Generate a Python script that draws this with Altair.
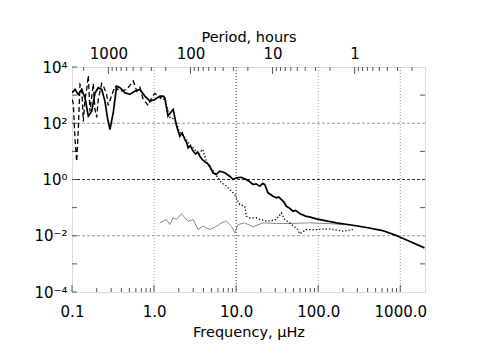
import math
import altair as alt
import pandas as pd

# ---- data (frequency in microHz, power) ----
solid_f = [0.1, 0.109, 0.119, 0.131, 0.144, 0.158, 0.174, 0.191, 0.209, 0.230, 0.252, 0.270,
           0.290, 0.318, 0.350, 0.384, 0.441, 0.508, 0.584, 0.672, 0.773, 0.889, 1.02, 1.18,
           1.29, 1.35, 1.48, 1.56, 1.71, 1.88, 2.06, 2.2, 2.37, 2.5, 2.60, 2.75, 2.99, 3.2, 3.4,
           3.61, 3.9, 4.35, 4.7, 5.24, 5.7, 6.32, 7.27, 8.36, 9.2, 10.1, 11.5, 13.3, 14.5, 16.1,
           17.5, 19.4, 21, 22.3, 24.4, 26, 28.1, 30.9, 33, 35.6, 38, 40.9, 44, 49.2, 53, 59.4,
           70, 80, 94.8, 166, 241, 385, 607, 891, 1294, 1970]
solid_p = [1217, 1596, 1059, 1596, 808, 179, 270, 1217, 1834, 1596, 611, 161,
           60, 237, 2091, 1834, 1217, 1059, 1387, 1596, 921, 611, 703, 921,
           921, 808, 179, 223, 310, 79, 34.8, 45, 26.5, 20, 13.4, 16, 10.2, 8, 9.5,
           6.75, 5, 3.93, 3.2, 1.73, 1.5, 1.97, 1.73, 1.31, 1.0, 1.15, 1.2, 1.0, 0.85, 0.664,
           0.7, 0.578, 0.72, 0.664, 0.336, 0.3, 0.255, 0.223, 0.24, 0.194, 0.16, 0.112, 0.1, 0.0744, 0.08, 0.0617,
           0.05, 0.046, 0.0399, 0.0288, 0.0246, 0.0196, 0.0153, 0.0102, 0.0064, 0.0037]

dashed_f = [0.1, 0.1037, 0.1088, 0.1141, 0.1193, 0.1251, 0.1312, 0.1373, 0.1439, 0.1510, 0.1579,
            0.1656, 0.1737, 0.1816, 0.1905, 0.1997, 0.2089, 0.2298, 0.2403, 0.2643, 0.2764, 0.2982,
            0.3336, 0.3836, 0.4628, 0.5077, 0.5569, 0.6177, 0.672, 0.737, 0.8478, 0.9402, 1.023,
            1.177, 1.29]
dashed_p = [703, 507, 26.5, 4.37, 60, 2404, 1880, 116, 703, 1596, 5024,
            263, 828, 2609, 310, 161, 703, 2609, 2213, 1059, 430, 828,
            2040, 1355, 1596, 2213, 3200, 1355, 1880, 703, 430, 828, 1148,
            828, 899]

dotted_f = [1.177, 1.353, 1.556, 1.791, 2.060, 2.370, 2.726, 3.136, 3.411, 3.924, 4.268, 4.773,
            5.340, 5.973, 6.624, 7.474, 8.357, 9.616, 10.55, 11.06, 12.72, 13.34, 14.64, 17.66,
            19.37, 24.44, 30.93, 35.57, 39.0, 44.9, 56.6, 59.4, 71.6, 94.8, 137.6, 200, 264]
dotted_p = [763, 703, 161, 137, 47, 31.2, 17.6, 11.7, 7.76, 11.7, 5.15, 2.67,
            1.93, 1.18, 0.763, 0.612, 0.441, 0.292, 0.169, 0.129, 0.112, 0.0494, 0.0434, 0.0434,
            0.0377, 0.0328, 0.0377, 0.0653, 0.0377, 0.0288, 0.0166, 0.0117, 0.0166, 0.0166, 0.0176, 0.0145, 0.0166]

grey_f = [1.177, 1.290, 1.420, 1.556, 1.707, 1.878, 2.160, 2.370, 2.598, 2.990, 3.440, 3.957,
          4.773, 5.758, 6.624, 7.621, 8.766, 9.616, 10.55, 12.72, 16.06, 21.25, 30.93, 44.9,
          78.6, 151, 290.8, 509, 739, 932]
grey_p = [0.0288, 0.0328, 0.0377, 0.0250, 0.0434, 0.0377, 0.0617, 0.0434, 0.0328, 0.0377, 0.0166, 0.0218,
          0.0166, 0.0218, 0.0288, 0.0328, 0.0218, 0.0127, 0.0250, 0.0288, 0.0207, 0.0288, 0.0272, 0.0272,
          0.0288, 0.0265, 0.0231, 0.0173, 0.0130, 0.0102]

# axis / grid values
freq_labels = [0.1, 1, 10, 100, 1000]
freq_minor = [0.2, 0.3, 0.4, 0.5, 0.6, 0.7, 0.8, 0.9, 2, 3, 4, 5, 6, 7, 8, 9,
              20, 30, 40, 50, 60, 70, 80, 90, 200, 300, 400, 500, 600, 700, 800, 900]
period_major = [1000, 100, 10, 1]
period_minor = [2000, 900, 800, 700, 600, 500, 400, 300, 200, 90, 80, 70, 60, 50, 40, 30, 20,
                9, 8, 7, 6, 5, 4, 3, 2, 0.9, 0.8, 0.7, 0.6, 0.5, 0.4, 0.3, 0.2]
power_labels = [1e4, 1e2, 1, 1e-2, 1e-4]
power_label_text = ["10⁴", "10²", "10⁰", "10⁻²", "10⁻⁴"]
power_minor = [1e3, 1e1, 1e-1, 1e-3]
grid_x = [1, 10, 100, 1000]
grid_y = [1e2, 1, 1e-2]

W, H = 353, 225
FONT = "DejaVu Sans"
xs = alt.Scale(type="log", domain=[0.1, 2000], nice=False)
ys = alt.Scale(type="log", domain=[1e-4, 1e4], nice=False)

expo = "round(log(datum.value)/LN10)"
ylabel_expr = ""
for v, t in zip(power_labels, power_label_text):
    ylabel_expr += f"{expo} == {round(math.log10(v))} ? '{t}' : "
ylabel_expr += "''"

gv = alt.Chart(pd.DataFrame({"v": grid_x})).mark_rule(strokeDash=[1, 2], strokeWidth=1).encode(
    x=alt.X("v:Q", scale=xs, axis=None),
    color=alt.condition(alt.datum.v == 10, alt.value("#333333"), alt.value("#999999")),
)
gh = alt.Chart(pd.DataFrame({"v": grid_y})).mark_rule(strokeDash=[3, 2], strokeWidth=1).encode(
    y=alt.Y("v:Q", scale=ys, axis=None),
    color=alt.condition(alt.datum.v == 1, alt.value("#333333"), alt.value("#999999")),
)

bottom_major = alt.Chart(pd.DataFrame({"v": freq_labels})).mark_rule(color="#555", strokeWidth=1).encode(
    x=alt.X("v:Q", scale=xs, axis=alt.Axis(
        orient="bottom", values=freq_labels, format=".1f", ticks=False, grid=False, domain=False,
        labelPadding=12, labelFontSize=15, labelFont=FONT, labelColor="black",
        title="Frequency, μHz", titleFont=FONT, titleFontSize=14.5, titleFontWeight="normal",
        titleColor="black", titlePadding=6, labelFlush=False)),
    y=alt.value(H), y2=alt.value(H - 7),
)
bottom_minor = alt.Chart(pd.DataFrame({"v": freq_minor})).mark_rule(color="#555", strokeWidth=1).encode(
    x=alt.X("v:Q", scale=xs, axis=None), y=alt.value(H), y2=alt.value(H - 4),
)

top_major = alt.Chart(pd.DataFrame({"p": period_major})).transform_calculate(
    f="1e6/3600/datum.p").mark_rule(color="#555", strokeWidth=1).encode(
    x=alt.X("f:Q", scale=xs, axis=alt.Axis(
        orient="top", values=[1e6 / 3600 / p for p in period_major],
        labelExpr="round(1e6/3600/datum.value)", ticks=False, grid=False, domain=False,
        labelPadding=6, labelFontSize=15, labelFont=FONT, labelColor="black",
        title="Period, hours", titleFont=FONT, titleFontSize=14.5, titleFontWeight="normal",
        titleColor="black", titlePadding=2, labelFlush=False)),
    y=alt.value(0), y2=alt.value(7),
)
top_minor = alt.Chart(pd.DataFrame({"p": period_minor})).transform_calculate(
    f="1e6/3600/datum.p").transform_filter("datum.f <= 2000").mark_rule(color="#555", strokeWidth=1).encode(
    x=alt.X("f:Q", scale=xs, axis=None), y=alt.value(0), y2=alt.value(4),
)

left_ticks = alt.Chart(pd.DataFrame({"v": power_labels + power_minor})).mark_rule(color="#555", strokeWidth=1).encode(
    y=alt.Y("v:Q", scale=ys, axis=alt.Axis(
        orient="left", values=power_labels, labelExpr=ylabel_expr, ticks=False, grid=False,
        domain=False, labelPadding=5, labelFontSize=15, labelFont=FONT, labelColor="black",
        title=None, labelFlush=False)),
    x=alt.value(0), x2=alt.value(5),
)
right_ticks = alt.Chart(pd.DataFrame({"v": power_minor})).mark_rule(color="#555", strokeWidth=1).encode(
    y=alt.Y("v:Q", scale=ys, axis=None), x=alt.value(W - 5), x2=alt.value(W),
)


def series(fs, ps, **kw):
    return alt.Chart(pd.DataFrame({"f": fs, "p": ps})).mark_line(clip=True, **kw).encode(
        x=alt.X("f:Q", scale=xs, axis=None),
        y=alt.Y("p:Q", scale=ys, axis=None),
        order="f:Q",
    )


grey_line = series(grey_f, grey_p, color="#8a8a8a", strokeWidth=1)
dotted_line = series(dotted_f, dotted_p, color="black", strokeWidth=1.3, strokeDash=[1.3, 2])
dashed_line = series(dashed_f, dashed_p, color="black", strokeWidth=1.3, strokeDash=[5, 3])
solid_line = series(solid_f, solid_p, color="black", strokeWidth=1.7)

chart = alt.layer(
    gv, gh, bottom_major, bottom_minor, top_major, top_minor, left_ticks, right_ticks,
    grey_line, dotted_line, dashed_line, solid_line,
).resolve_axis(x="independent", y="independent").properties(
    width=W, height=H,
    autosize=alt.AutoSizeParams(type="none"),
    padding={"left": 64, "top": 59, "right": 58, "bottom": 51},
).configure_view(stroke="#555555", strokeWidth=1).configure(background="white")

chart.save("out.html", embed_options={"renderer": "svg", "actions": False})
